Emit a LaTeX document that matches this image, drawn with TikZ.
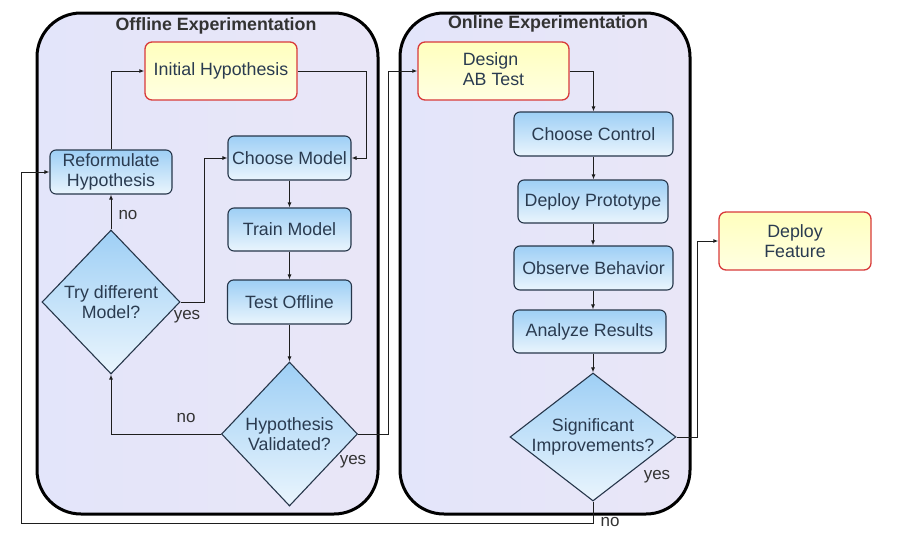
\documentclass[tikz,border=0pt]{standalone}
\usepackage{fontspec}
\setmainfont{Liberation Sans}
\usetikzlibrary{shapes.geometric,arrows.meta}
\definecolor{nodeborder}{HTML}{26364A}
\definecolor{nodetext}{HTML}{2A3B50}
\definecolor{bluetop}{HTML}{9ECFF5}
\definecolor{bluebot}{HTML}{EAF5FD}
\definecolor{yeltop}{HTML}{FFFFBE}
\definecolor{yelbot}{HTML}{FFFFE2}
\definecolor{redborder}{HTML}{D83A3A}
\definecolor{boxfillL}{HTML}{E3E5FA}
\definecolor{boxfillR}{HTML}{E9E6F7}
\definecolor{linecol}{HTML}{1E1E1E}
\definecolor{labcol}{HTML}{333333}
\begin{document}
\begin{tikzpicture}[x=1pt,y=-1pt,
  nfont/.style={font=\fontsize{17.8}{20}\selectfont},
  proc/.style={draw=nodeborder, line width=1.1pt, rounded corners=6pt,
    top color=bluetop, bottom color=bluebot, text=nodetext, nfont,
    align=center, inner sep=0pt},
  term/.style={draw=redborder, line width=1.3pt, rounded corners=7pt,
    top color=yeltop, bottom color=yelbot, text=nodetext, nfont,
    align=center, inner sep=0pt, minimum width=152pt, minimum height=58pt},
  decision/.style={diamond, draw=nodeborder, line width=1.1pt,
    top color=bluetop, bottom color=bluebot, inner sep=0pt},
  dtext/.style={text=nodetext, nfont, align=center, inner sep=0pt},
  container/.style={draw=black, line width=3pt, rounded corners=44pt,
    left color=boxfillL, right color=boxfillR},
  title/.style={font=\bfseries\fontsize{17.8}{20}\selectfont, text=labcol},
  lab/.style={font=\fontsize{17}{19}\selectfont, text=labcol, inner sep=0pt},
  arr/.style={draw=linecol, line width=1pt, -{Latex[length=5pt,width=4pt]}},
]
\useasboundingbox (0,0) rectangle (901,541);

% containers
\path[container] (37,13) rectangle (378,514);
\path[container] (400,13) rectangle (690,514);
\node[title] (toff) at (216,26) {Offline Experimentation};
\node[title] (ton) at (548,24) {Online Experimentation};

% offline nodes
\node[term] (init) at (221,71) {Initial Hypothesis};
\node[proc, minimum width=122pt, minimum height=44pt] (reform) at (111,172) {Reformulate\\Hypothesis};
\node[proc, minimum width=123pt, minimum height=44pt] (cmodel) at (289.5,158) {Choose Model};
\node[proc, minimum width=123pt, minimum height=43pt] (train) at (289.5,229.5) {Train Model};
\node[proc, minimum width=124pt, minimum height=44pt] (test) at (289.5,302) {Test Offline};
\node[decision, minimum width=138pt, minimum height=144pt] (try) at (111,302) {};
\node[dtext] (trytxt) at (111,302) {Try different\\Model?};
\node[decision, minimum width=136pt, minimum height=144pt] (hv) at (289.5,434) {};
\node[dtext] (hvtxt) at (289.5,434) {Hypothesis\\Validated?};

% online nodes
\node[term, minimum width=151pt] (design) at (493.5,71) {\begin{tabular}{@{}l@{}}Design\\AB Test\end{tabular}};
\node[proc, minimum width=159pt, minimum height=44pt] (cctrl) at (593.5,134) {Choose Control};
\node[proc, minimum width=150pt, minimum height=43pt] (dproto) at (593,201.5) {Deploy Prototype};
\node[proc, minimum width=159pt, minimum height=44pt] (observe) at (593.5,268) {Observe Behavior};
\node[proc, minimum width=153pt, minimum height=43pt] (analyze) at (589.5,331.5) {Analyze Results};
\node[decision, minimum width=166pt, minimum height=128pt] (sig) at (593,437) {};
\node[dtext] (sigtxt) at (593,437) {Significant\\Improvements?};

\node[term] (deploy) at (795,241) {Deploy\\Feature};

% connectors
\draw[arr] (init.east) -- ++(69,0) |- (cmodel.east);
\draw[arr] (reform.north) |- (init.west);
\draw[arr] (cmodel.south) -- (train.north);
\draw[arr] (train.south) -- (test.north);
\draw[arr] (test.south) -- (hv.north);
\draw[arr] (hv.west) -| (try.south);
\draw[arr] (hv.east) -- ++(30,0) |- (design.west);
\draw[arr] (try.north) -- (reform.south);
\draw[arr] (try.east) -- ++(24,0) |- (cmodel.west);

\draw[arr] (design.east) -| (cctrl.north);
\draw[arr] (cctrl.south) -- (cctrl.south |- dproto.north);
\draw[arr] (dproto.south) -- (dproto.south |- observe.north);
\draw[arr] (observe.south -| sig.north) -- (sig.north |- analyze.north);
\draw[arr] (sig.north |- analyze.south) -- (sig.north);
\draw[arr] (sig.east) -- ++(21,0) |- (deploy.west);
\coordinate (loopL) at (21,523);
\draw[arr] (sig.south) |- (loopL) |- (reform.west);

% labels
\node[lab] (l1) at (128,215) {no};
\node[lab] (l2) at (187,317) {yes};
\node[lab] (l3) at (186,418) {no};
\node[lab] (l4) at (353,462) {yes};
\node[lab] (l5) at (657,477) {yes};
\node[lab] (l6) at (610,522) {no};
\end{tikzpicture}
\end{document}
